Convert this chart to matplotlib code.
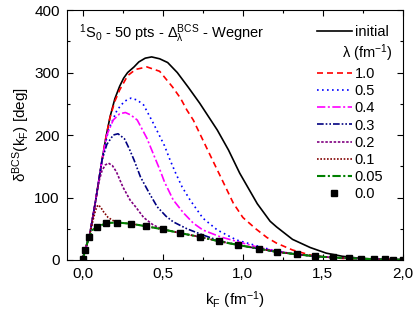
import numpy as np
import matplotlib
matplotlib.use("Agg")
import matplotlib.pyplot as plt
from matplotlib.ticker import MultipleLocator, FuncFormatter

plt.rcParams['font.family'] = ['Liberation Sans', 'DejaVu Sans']
plt.rcParams['mathtext.default'] = 'regular'

# kF in fm^-1, phase shift in deg
k_init = [0.0, 0.015, 0.045, 0.08, 0.12, 0.145, 0.17, 0.20, 0.23, 0.255, 0.28, 0.32, 0.35, 0.39, 0.43,
          0.48, 0.53, 0.59, 0.66, 0.73, 0.84, 0.91, 0.98, 1.09, 1.17, 1.21, 1.31, 1.42, 1.52, 1.62,
          1.72, 1.82, 1.91, 2.0]
d_init = [3, 16, 43, 95, 160, 197, 229, 258, 278, 291, 300, 309, 317, 323, 325,
          322, 316, 300, 276, 251, 208, 176, 139, 90, 62, 53, 33, 20, 11, 6,
          3, 1.5, 0.8, 0.4]

k_10 = [0.0, 0.015, 0.045, 0.08, 0.12, 0.145, 0.17, 0.20, 0.23, 0.28, 0.33, 0.40, 0.48, 0.56, 0.61,
        0.65, 0.69, 0.75, 0.81, 0.88, 0.94, 1.0, 1.08, 1.15, 1.21, 1.31, 1.42, 1.52, 1.62, 1.75,
        1.9, 2.0]
d_10 = [3, 16, 43, 95, 160, 197, 228, 254, 272, 295, 305, 309, 302, 277, 259,
        240, 224, 192, 160, 123, 91, 68, 50, 36, 27, 16, 8, 4.5, 2.5, 1.2,
        0.6, 0.4]

k_05 = [0.0, 0.015, 0.045, 0.08, 0.12, 0.16, 0.214, 0.26, 0.30, 0.34, 0.38, 0.44, 0.51, 0.545, 0.58,
        0.62, 0.67, 0.75, 0.84, 0.96, 1.11, 1.21, 1.34, 1.45, 1.56, 1.66, 1.74, 1.82, 1.9, 2.0]
d_05 = [3, 16, 43, 95, 160, 208, 240, 254, 259, 256, 248, 219, 183, 160, 139,
        117, 96, 67, 48, 32, 21, 14, 9, 6, 4, 3, 2, 1.2, 0.8, 0.4]

k_04 = [0.0, 0.015, 0.045, 0.08, 0.12, 0.15, 0.19, 0.23, 0.266, 0.30, 0.34, 0.40, 0.44, 0.485, 0.51,
        0.565, 0.63, 0.69, 0.75, 0.86, 1.0, 1.10, 1.21, 1.34, 1.45, 1.56, 1.66, 1.74, 1.82, 1.9, 2.0]
d_04 = [3, 16, 43, 95, 160, 200, 224, 234, 236, 232, 224, 195, 170, 142, 125,
        96, 75, 59, 48, 37, 27, 20, 14, 9, 6, 4, 3, 2, 1.2, 0.8, 0.4]

k_03 = [0.0, 0.015, 0.045, 0.08, 0.12, 0.15, 0.19, 0.22, 0.26, 0.29, 0.32, 0.36, 0.415, 0.465, 0.52,
        0.565, 0.65, 0.75, 0.85, 0.97, 1.10, 1.21, 1.34, 1.45, 1.56, 1.66, 1.74, 1.82, 1.9, 2.0]
d_03 = [3, 16, 43, 95, 160, 185, 200, 202, 194, 178, 160, 133, 107, 85, 70,
        61, 50, 40, 31, 24, 18, 13, 9, 6, 4, 3, 2, 1.2, 0.8, 0.4]

k_02 = [0.0, 0.015, 0.045, 0.08, 0.10, 0.12, 0.14, 0.16, 0.185, 0.21, 0.25, 0.295, 0.33, 0.38, 0.44,
        0.50, 0.61, 0.73, 0.85, 0.97, 1.10, 1.21, 1.34, 1.45, 1.56, 1.66, 1.74, 1.82, 1.9, 2.0]
d_02 = [3, 16, 43, 95, 125, 143, 152, 155, 151, 141, 117, 96, 85, 68, 56,
        49, 43, 37, 30, 24, 18, 13, 9, 6, 4, 3, 2, 1.2, 0.8, 0.4]

k_01 = [0.0, 0.015, 0.045, 0.065, 0.08, 0.094, 0.11, 0.13, 0.158, 0.19, 0.214, 0.30, 0.396, 0.50,
        0.61, 0.73, 0.85, 0.97, 1.10, 1.21, 1.34, 1.45, 1.56, 1.66, 1.74, 1.82, 1.9, 2.0]
d_01 = [3, 16, 43, 65, 80, 88, 85, 77, 68, 63, 60, 58, 54, 49,
        43, 37, 30, 24, 18, 13, 9, 6, 4, 3, 2, 1.2, 0.8, 0.4]

k_005 = [0.0, 0.014, 0.04, 0.06, 0.09, 0.146, 0.214, 0.30, 0.396, 0.50, 0.61, 0.73, 0.85, 0.97,
         1.10, 1.21, 1.34, 1.45, 1.56, 1.66, 1.74, 1.82, 1.89, 1.94, 2.0]
d_005 = [0, 16, 37, 48, 53, 59, 60, 58, 54, 49, 43, 37, 30, 24,
         18, 13, 9, 6, 4, 3, 2, 1.2, 0.8, 0.6, 0.4]

k_00 = [0.0, 0.014, 0.04, 0.09, 0.146, 0.214, 0.30, 0.396, 0.50, 0.61, 0.73, 0.85, 0.97,
        1.10, 1.21, 1.34, 1.45, 1.56, 1.66, 1.74, 1.82, 1.89, 1.94, 2.0]
d_00 = [2, 16, 37, 53, 59, 60, 58, 54, 49, 43, 37, 30, 24,
        18, 13, 9, 6, 4, 3, 2, 1.2, 0.8, 0.6, 0.4]

fig = plt.figure(figsize=(4.15, 3.14), dpi=100)
ax = fig.add_axes([0.161, 0.172, 0.81, 0.796])

lw = 1.2
ax.plot(k_init, d_init, color='black', lw=lw, ls='-', label='initial')
# spacer row of the legend, the lambda header is written over it below
ax.plot([], [], color='none', label=r'x$^{1}$')
ax.plot(k_10, d_10, color='#ff0000', lw=lw, ls=(0, (3.6, 2.4)), label='1.0')
ax.plot(k_05, d_05, color='#0000ff', lw=lw, ls=(0, (1, 2)), label='0.5')
ax.plot(k_04, d_04, color='#ff00ff', lw=lw, ls=(0, (5, 1.5, 1.2, 1.5)), label='0.4')
ax.plot(k_03, d_03, color='#000080', lw=lw, ls=(0, (4, 1.2, 1, 1.2, 1, 1.2)), label='0.3')
ax.plot(k_02, d_02, color='#800080', lw=lw, ls=(0, (1.5, 1)), label='0.2')
ax.plot(k_01, d_01, color='#800000', lw=lw, ls=(0, (1, 1)), label='0.1')
ax.plot(k_005, d_005, color='#008000', lw=1.5, ls=(0, (4, 1.2, 1, 1.2)), label='0.05')
ax.plot(k_00, d_00, ls='none', marker='s', ms=4.5, color='black', label='0.0')

ax.set_xlim(-0.1, 2.0)
ax.set_ylim(0, 400)
ax.xaxis.set_major_locator(MultipleLocator(0.5))
ax.xaxis.set_minor_locator(MultipleLocator(0.25))
ax.yaxis.set_major_locator(MultipleLocator(100))
ax.yaxis.set_minor_locator(MultipleLocator(50))
ax.xaxis.set_major_formatter(FuncFormatter(lambda v, p: f"{v:.1f}".replace('.', ',')))
ax.tick_params(which='both', direction='in', top=True, right=True, labelsize=11)
ax.tick_params(which='major', length=4.5, width=0.8, pad=5)
ax.tick_params(which='minor', length=2.5, width=0.8)

ax.set_xlabel(r'k$_F$ (fm$^{-1}$)', fontsize=11, labelpad=6)
ax.set_ylabel(r'$\delta^{BCS}$(k$_F$) [deg]', fontsize=11, labelpad=2)
ax.text(0.035, 0.905, r'$^1$S$_0$ - 50 pts - $\Delta_\lambda^{BCS}$ - Wegner',
        transform=ax.transAxes, fontsize=10.5, va='center', ha='left')

leg = ax.legend(loc='upper right', frameon=False, fontsize=10.5, handlelength=2.4,
                handletextpad=0.2, labelspacing=0.22, borderaxespad=0.6)
spacer = leg.get_texts()[1]
spacer.set_fontsize(14)
fig.canvas.draw()
bb = spacer.get_window_extent()
spacer.set_visible(False)
_, ymid = ax.transAxes.inverted().transform((0, (bb.y0 + bb.y1) / 2))
ax.text(0.97, ymid, r'$\lambda$ (fm$^{-1}$)', transform=ax.transAxes,
        fontsize=10.5, ha='right', va='center')

fig.savefig('out.png', dpi=100)
